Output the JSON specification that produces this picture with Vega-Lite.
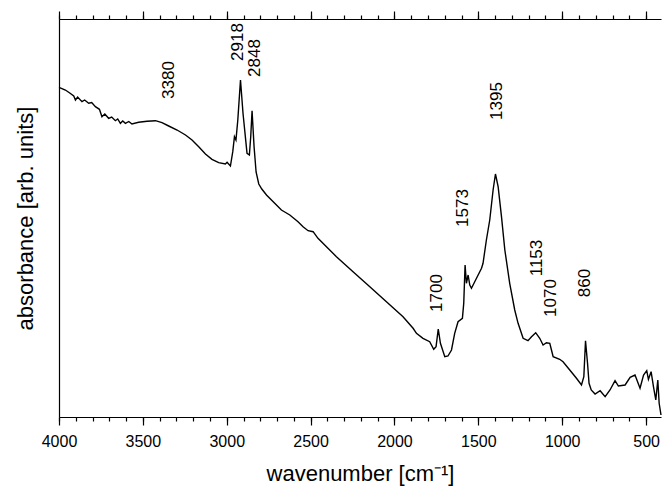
{
  "$schema": "https://vega.github.io/schema/vega-lite/v6.json",
  "width": 602,
  "height": 398,
  "autosize": {"type": "none"},
  "padding": {"left": 59, "top": 19, "right": 1, "bottom": 70},
  "background": "white",
  "config": {
    "view": {"stroke": null},
    "axis": {"grid": false, "domainColor": "black", "tickColor": "black", "labelColor": "black", "titleColor": "black", "labelFont": "Liberation Sans", "titleFont": "Liberation Sans", "titleFontWeight": "normal", "domainWidth": 1.2, "tickWidth": 1.2}
  },
  "datasets": {
    "spectrum": [
      {"w": 4000, "a": 329.7}, {"w": 3962, "a": 327}, {"w": 3936, "a": 324}, {"w": 3912, "a": 321},
      {"w": 3902, "a": 317}, {"w": 3889, "a": 320}, {"w": 3863, "a": 315.3}, {"w": 3847, "a": 317},
      {"w": 3823, "a": 313.7}, {"w": 3805, "a": 314.5}, {"w": 3783, "a": 310.3}, {"w": 3759, "a": 307.7},
      {"w": 3744, "a": 300.3}, {"w": 3727, "a": 303}, {"w": 3704, "a": 298.7}, {"w": 3686, "a": 300},
      {"w": 3664, "a": 296.3}, {"w": 3650, "a": 298}, {"w": 3634, "a": 293.7}, {"w": 3620, "a": 296},
      {"w": 3604, "a": 293.7}, {"w": 3584, "a": 295.5}, {"w": 3565, "a": 293}, {"w": 3525, "a": 294.7},
      {"w": 3475, "a": 295.7}, {"w": 3425, "a": 296.3}, {"w": 3386, "a": 294.3}, {"w": 3346, "a": 291},
      {"w": 3296, "a": 287}, {"w": 3246, "a": 282}, {"w": 3207, "a": 277}, {"w": 3167, "a": 270.3},
      {"w": 3127, "a": 263}, {"w": 3088, "a": 257.7}, {"w": 3048, "a": 254.3}, {"w": 3008, "a": 253},
      {"w": 2998, "a": 254.7}, {"w": 2978, "a": 251}, {"w": 2964, "a": 265.3}, {"w": 2954, "a": 280.3},
      {"w": 2945, "a": 277}, {"w": 2934, "a": 297}, {"w": 2918, "a": 337}, {"w": 2903, "a": 303.7},
      {"w": 2879, "a": 263.7}, {"w": 2865, "a": 262}, {"w": 2857, "a": 280.3}, {"w": 2849, "a": 306.3},
      {"w": 2837, "a": 270.3}, {"w": 2825, "a": 245}, {"w": 2809, "a": 233}, {"w": 2791, "a": 228},
      {"w": 2763, "a": 222}, {"w": 2714, "a": 213.7}, {"w": 2674, "a": 207}, {"w": 2624, "a": 202},
      {"w": 2575, "a": 195.3}, {"w": 2545, "a": 190.3}, {"w": 2515, "a": 186.3}, {"w": 2485, "a": 185.3},
      {"w": 2456, "a": 178.7}, {"w": 2346, "a": 160.3}, {"w": 2247, "a": 145.3}, {"w": 2147, "a": 130.3},
      {"w": 2048, "a": 115.3}, {"w": 1949, "a": 100.3}, {"w": 1889, "a": 88.7}, {"w": 1869, "a": 83.7},
      {"w": 1830, "a": 78.7}, {"w": 1790, "a": 75.3}, {"w": 1766, "a": 67.7}, {"w": 1752, "a": 70.3},
      {"w": 1739, "a": 88}, {"w": 1726, "a": 73.7}, {"w": 1700, "a": 60.3}, {"w": 1681, "a": 61},
      {"w": 1660, "a": 67}, {"w": 1641, "a": 83.7}, {"w": 1621, "a": 95.3}, {"w": 1595, "a": 98.7},
      {"w": 1587, "a": 113.7}, {"w": 1579, "a": 152}, {"w": 1571, "a": 133.7}, {"w": 1561, "a": 142},
      {"w": 1551, "a": 132}, {"w": 1541, "a": 128.7}, {"w": 1511, "a": 138.7}, {"w": 1481, "a": 148.7},
      {"w": 1472, "a": 153.7}, {"w": 1452, "a": 177}, {"w": 1432, "a": 197}, {"w": 1412, "a": 227},
      {"w": 1398, "a": 243}, {"w": 1382, "a": 230.3}, {"w": 1362, "a": 200.3}, {"w": 1342, "a": 167},
      {"w": 1313, "a": 133.7}, {"w": 1283, "a": 107}, {"w": 1263, "a": 93.7}, {"w": 1233, "a": 78.7},
      {"w": 1204, "a": 76.3}, {"w": 1183, "a": 80.3}, {"w": 1158, "a": 84.3}, {"w": 1134, "a": 78.7},
      {"w": 1114, "a": 72}, {"w": 1094, "a": 74.3}, {"w": 1074, "a": 73.7}, {"w": 1064, "a": 67},
      {"w": 1054, "a": 60.3}, {"w": 1015, "a": 57.7}, {"w": 995, "a": 55.3}, {"w": 955, "a": 47},
      {"w": 915, "a": 38.7}, {"w": 885, "a": 32}, {"w": 871, "a": 40.3}, {"w": 861, "a": 76.3},
      {"w": 849, "a": 53.7}, {"w": 840, "a": 33.7}, {"w": 827, "a": 27}, {"w": 804, "a": 23},
      {"w": 774, "a": 26.3}, {"w": 744, "a": 20.3}, {"w": 715, "a": 27}, {"w": 685, "a": 36.3},
      {"w": 665, "a": 31}, {"w": 625, "a": 32}, {"w": 595, "a": 39.7}, {"w": 566, "a": 42},
      {"w": 536, "a": 28.7}, {"w": 515, "a": 42}, {"w": 496, "a": 46.3}, {"w": 486, "a": 37.7},
      {"w": 470, "a": 45.3}, {"w": 456, "a": 30.3}, {"w": 442, "a": 17}, {"w": 430, "a": 37},
      {"w": 422, "a": 13.7}, {"w": 411, "a": 2}
    ],
    "peaks": [
      {"label": "3380", "w": 3346, "a": 337},
      {"label": "2918", "w": 2934, "a": 375},
      {"label": "2848", "w": 2833, "a": 359},
      {"label": "1395", "w": 1390, "a": 316},
      {"label": "1573", "w": 1593, "a": 209},
      {"label": "1700", "w": 1748, "a": 124},
      {"label": "1153", "w": 1152, "a": 159},
      {"label": "1070", "w": 1068, "a": 119},
      {"label": "860", "w": 865, "a": 134}
    ]
  },
  "resolve": {"axis": {"x": "independent", "y": "independent"}},
  "layer": [
    {
      "data": {"name": "spectrum"},
      "mark": {"type": "line", "color": "black", "strokeWidth": 1.4, "interpolate": "linear"},
      "encoding": {
        "x": {
          "field": "w", "type": "quantitative",
          "scale": {"domain": [411, 4000], "reverse": true, "nice": false, "zero": false},
          "axis": {"orient": "bottom", "values": [4000, 3500, 3000, 2500, 2000, 1500, 1000, 500], "format": "d", "tickSize": 8, "labelFontSize": 16, "labelPadding": 8, "labelFlush": false, "labelOverlap": false, "labelBound": false, "title": "wavenumber [cm⁻¹]", "titleFontSize": 22, "titlePadding": 14}
        },
        "y": {
          "field": "a", "type": "quantitative",
          "scale": {"domain": [0, 398], "nice": false, "zero": false},
          "axis": {"orient": "left", "ticks": false, "labels": false, "domain": true, "title": "absorbance [arb. units]", "titleFontSize": 22, "titlePadding": 22}
        }
      }
    },
    {
      "data": {"name": "spectrum"},
      "mark": {"type": "line", "strokeOpacity": 0},
      "encoding": {
        "x": {
          "field": "w", "type": "quantitative",
          "axis": {"orient": "bottom", "values": [4000, 3900, 3800, 3700, 3600, 3500, 3400, 3300, 3200, 3100, 3000, 2900, 2800, 2700, 2600, 2500, 2400, 2300, 2200, 2100, 2000, 1900, 1800, 1700, 1600, 1500, 1400, 1300, 1200, 1100, 1000, 900, 800, 700, 600, 500], "tickSize": 4, "labels": false, "domain": false, "title": null}
        },
        "y": {"field": "a", "type": "quantitative", "axis": null}
      }
    },
    {
      "data": {"name": "spectrum"},
      "mark": {"type": "line", "strokeOpacity": 0},
      "encoding": {
        "x": {
          "field": "w", "type": "quantitative",
          "axis": {"orient": "top", "values": [4000, 3900, 3800, 3700, 3600, 3500, 3400, 3300, 3200, 3100, 3000, 2900, 2800, 2700, 2600, 2500, 2400, 2300, 2200, 2100, 2000, 1900, 1800, 1700, 1600, 1500, 1400, 1300, 1200, 1100, 1000, 900, 800, 700, 600, 500], "tickSize": 4, "labels": false, "domain": true, "title": null}
        },
        "y": {"field": "a", "type": "quantitative", "axis": null}
      }
    },
    {
      "data": {"name": "peaks"},
      "mark": {"type": "text", "angle": 270, "align": "center", "baseline": "middle", "font": "Liberation Sans", "fontSize": 17, "color": "black"},
      "encoding": {
        "x": {
          "field": "w", "type": "quantitative",
          "axis": {"orient": "top", "values": [4000, 3500, 3000, 2500, 2000, 1500, 1000, 500], "tickSize": 8, "labels": false, "domain": false, "title": null}
        },
        "y": {"field": "a", "type": "quantitative", "axis": null},
        "text": {"field": "label", "type": "nominal"}
      }
    }
  ]
}
